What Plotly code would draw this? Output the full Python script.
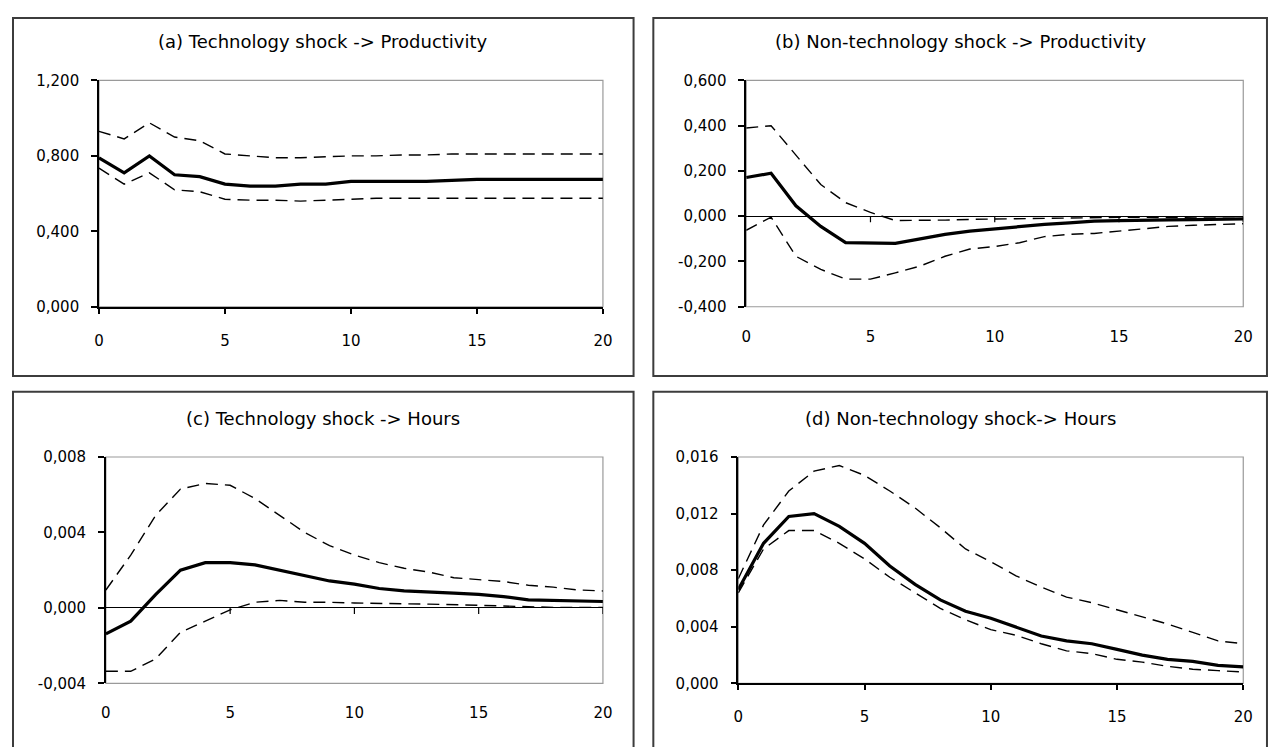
import plotly.graph_objects as go

# The page body has an 8px margin; the figure is sized so the page fits the 1283x755 window.
OFF = 8
W, H = 1283 - 2 * OFF, 755 - 2 * OFF

horizons = list(range(21))
x_tickvals = [0, 5, 10, 15, 20]
x_ticktext = ["0", "5", "10", "15", "20"]

titles = [
    "(a) Technology shock -> Productivity",
    "(b) Non-technology shock -> Productivity",
    "(c) Technology shock -> Hours",
    "(d) Non-technology shock-> Hours",
]

# (a) Technology shock -> Productivity
a_resp = [0.79, 0.71, 0.80, 0.70, 0.69, 0.65, 0.64, 0.64, 0.65, 0.65, 0.665,
          0.665, 0.665, 0.665, 0.67, 0.675, 0.675, 0.675, 0.675, 0.675, 0.675]
a_up = [0.93, 0.89, 0.975, 0.90, 0.88, 0.81, 0.80, 0.79, 0.79, 0.795, 0.80,
        0.80, 0.805, 0.805, 0.81, 0.81, 0.81, 0.81, 0.81, 0.81, 0.81]
a_lo = [0.735, 0.65, 0.71, 0.62, 0.61, 0.57, 0.565, 0.565, 0.56, 0.565, 0.57,
        0.575, 0.575, 0.575, 0.575, 0.575, 0.575, 0.575, 0.575, 0.575, 0.575]

# (b) Non-technology shock -> Productivity
b_resp = [0.171, 0.19, 0.046, -0.045, -0.117, -0.12, -0.12, -0.10, -0.08, -0.066, -0.055,
          -0.045, -0.036, -0.029, -0.022, -0.019, -0.016, -0.016, -0.015, -0.013, -0.012]
b_up = [0.39, 0.40, 0.27, 0.14, 0.06, 0.017, -0.019, -0.019, -0.017, -0.014, -0.012,
        -0.010, -0.008, -0.007, -0.006, -0.005, -0.005, -0.005, -0.006, -0.008, -0.010]
b_lo = [-0.062, -0.004, -0.177, -0.235, -0.278, -0.278, -0.25, -0.22, -0.177, -0.145, -0.134,
        -0.117, -0.09, -0.08, -0.076, -0.066, -0.055, -0.045, -0.040, -0.038, -0.033]

# (c) Technology shock -> Hours
c_resp = [-0.00138, -0.0007, 0.0007, 0.0020, 0.0024, 0.0024, 0.00228, 0.0020, 0.0017, 0.00143, 0.00126,
          0.00103, 0.0009, 0.00086, 0.00078, 0.00072, 0.0006, 0.00043, 0.0004, 0.00034, 0.00034]
c_up = [0.00095, 0.0028, 0.0049, 0.0063, 0.0066, 0.0065, 0.0058, 0.0049, 0.0040, 0.0033, 0.0028,
        0.0024, 0.0021, 0.0019, 0.0016, 0.0015, 0.0014, 0.0012, 0.0011, 0.00095, 0.0009]
c_lo = [-0.00336, -0.00336, -0.0027, -0.0013, -0.0007, -0.0001, 0.0003, 0.0004, 0.0003, 0.0003, 0.00026,
        0.00022, 0.00022, 0.0002, 0.00018, 0.00014, 0.0001, 0.00005, 0.00003, 0.00003, 0.00003]

# (d) Non-technology shock -> Hours
d_resp = [0.00663, 0.0099, 0.0118, 0.0120, 0.0111, 0.0099, 0.0083, 0.0070, 0.0059, 0.0051, 0.0046,
          0.0040, 0.00335, 0.0030, 0.0028, 0.0024, 0.0020, 0.0017, 0.00155, 0.00127, 0.00116]
d_up = [0.0074, 0.0112, 0.0136, 0.0150, 0.0154, 0.0147, 0.0136, 0.0124, 0.0110, 0.0095, 0.0086,
        0.0076, 0.0068, 0.0061, 0.0057, 0.0052, 0.0047, 0.0042, 0.0036, 0.0030, 0.0028]
d_lo = [0.0064, 0.0095, 0.0108, 0.0108, 0.0099, 0.0088, 0.0075, 0.0064, 0.0053, 0.0045, 0.0038,
        0.0034, 0.0028, 0.0023, 0.0021, 0.0017, 0.0015, 0.0012, 0.0010, 0.0009, 0.0008]

y_ranges = [[0, 1.2], [-0.4, 0.6], [-0.004, 0.008], [0, 0.016]]
y_tickvals = [
    [0, 0.4, 0.8, 1.2],
    [-0.4, -0.2, 0, 0.2, 0.4, 0.6],
    [-0.004, 0, 0.004, 0.008],
    [0, 0.004, 0.008, 0.012, 0.016],
]
y_ticktext = [
    ["0,000", "0,400", "0,800", "1,200"],
    ["-0,400", "-0,200", "0,000", "0,200", "0,400", "0,600"],
    ["-0,004", "0,000", "0,004", "0,008"],
    ["0,000", "0,004", "0,008", "0,012", "0,016"],
]

panels = [(a_resp, a_up, a_lo), (b_resp, b_up, b_lo), (c_resp, c_up, c_lo), (d_resp, d_up, d_lo)]

# layout in window pixels
plot_px = [  # x0, x1, ytop, ybottom
    (95, 605, 73, 305),
    (750, 1253, 73, 305),
    (102, 605, 459, 691),
    (742, 1253, 459, 691),
]
box_px = [
    (8, 636, 9, 376),
    (656, 1277, 9, 376),
    (8, 636, 392, 780),
    (656, 1277, 392, 780),
]
title_px = [(322, 33), (967, 33), (322, 420), (967, 420)]
axis_at_bottom = [True, False, False, True]


def px(xw):
    return (xw - OFF) / W


def py(yw):
    return 1 - (yw - OFF) / H


FONT = "DejaVu Sans"
fig = go.Figure()
shapes = []
annotations = []
layout_axes = {}

for i, (resp, up, lo) in enumerate(panels):
    n = i + 1
    xa = "x" if n == 1 else f"x{n}"
    ya = "y" if n == 1 else f"y{n}"
    for series, width, dash in [(up, 1.4, "12px,7px"), (lo, 1.4, "12px,7px"), (resp, 3.2, "solid")]:
        fig.add_trace(go.Scatter(
            x=horizons, y=series, mode="lines", xaxis=xa, yaxis=ya,
            line=dict(color="black", width=width, dash=dash),
            showlegend=False, hoverinfo="skip", cliponaxis=False,
        ))
    x0, x1, yt, yb = plot_px[i]
    xkey = "xaxis" if n == 1 else f"xaxis{n}"
    ykey = "yaxis" if n == 1 else f"yaxis{n}"
    bottom = axis_at_bottom[i]
    layout_axes[xkey] = dict(
        domain=[px(x0), px(x1)], anchor=ya, range=[0, 20],
        tickvals=x_tickvals, ticktext=x_ticktext,
        showline=bottom, linecolor="black", linewidth=1.5,
        ticks="outside" if bottom else "", ticklen=5, tickcolor="black", tickwidth=1.5,
        ticklabelstandoff=14 if bottom else 19,
        showgrid=False, zeroline=False, fixedrange=True,
        tickfont=dict(family=FONT, size=15, color="black"),
    )
    layout_axes[ykey] = dict(
        domain=[py(yb), py(yt)], anchor=xa, range=y_ranges[i],
        tickvals=y_tickvals[i], ticktext=y_ticktext[i],
        showline=True, linecolor="black", linewidth=1.5,
        ticks="outside", ticklen=6, tickcolor="black", tickwidth=1.5,
        ticklabelstandoff=9,
        showgrid=False, zeroline=not bottom, zerolinecolor="black", zerolinewidth=1,
        fixedrange=True,
        tickfont=dict(family=FONT, size=15, color="black"),
    )
    # plot-area frame (gray)
    shapes.append(dict(type="rect", xref=f"{xa} domain", yref=f"{ya} domain",
                       x0=0, x1=1, y0=0, y1=1, line=dict(color="#9a9a9a", width=1.2),
                       layer="below"))
    # ticks on the zero line for panels whose x axis crosses at zero
    if not bottom:
        for tv in x_tickvals[1:]:
            shapes.append(dict(type="line", xref=xa, yref=ya, ysizemode="pixel", yanchor=0,
                               x0=tv, x1=tv, y0=0, y1=-6, line=dict(color="black", width=1.2)))
    # outer panel box
    bx0, bx1, byt, byb = box_px[i]
    shapes.append(dict(type="rect", xref="paper", yref="paper",
                       x0=px(bx0), x1=px(bx1), y0=py(byb), y1=py(byt),
                       line=dict(color="#3c3c3c", width=2)))
    tx, ty = title_px[i]
    annotations.append(dict(text=titles[i], xref="paper", yref="paper", x=px(tx), y=py(ty),
                            xanchor="center", yanchor="middle", showarrow=False,
                            font=dict(family=FONT, size=18, color="black")))

fig.update_layout(
    width=W, height=H, margin=dict(l=0, r=0, t=0, b=0),
    paper_bgcolor="white", plot_bgcolor="white",
    shapes=shapes, annotations=annotations, showlegend=False,
    **layout_axes,
)
fig.write_html("out.html", config={"displayModeBar": False})
